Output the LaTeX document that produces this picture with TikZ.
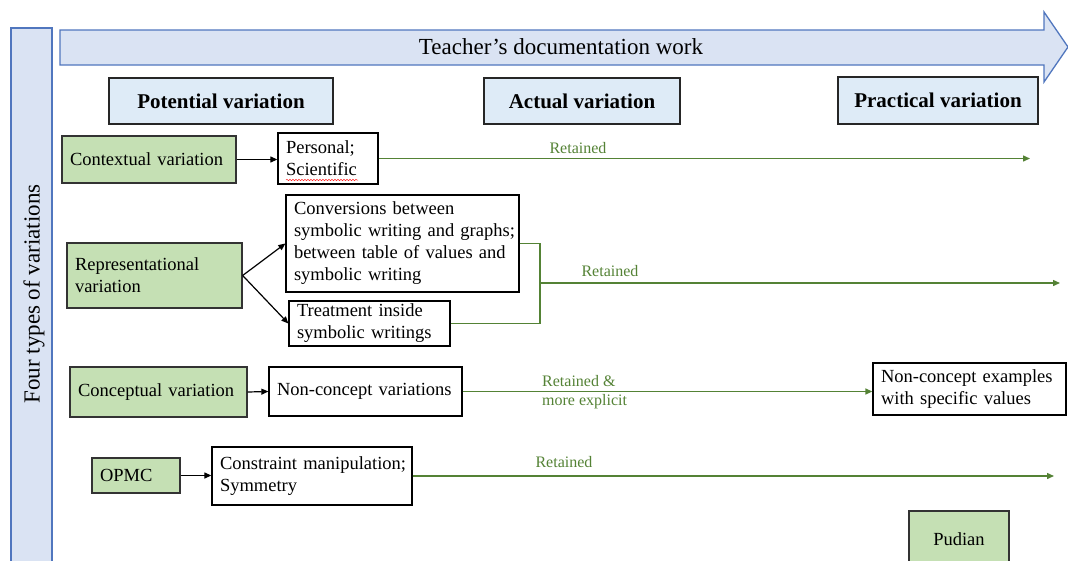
\documentclass[tikz,border=0pt]{standalone}
\usepackage{fontspec}
\setmainfont{Liberation Serif}
\usetikzlibrary{arrows.meta,decorations.pathmorphing}
\definecolor{barblue}{RGB}{218,227,243}
\definecolor{barline}{RGB}{80,118,190}
\definecolor{hdrblue}{RGB}{222,235,247}
\definecolor{boxgreen}{RGB}{197,224,180}
\definecolor{linegreen}{RGB}{84,130,53}
\begin{document}
\begin{tikzpicture}[x=1pt,y=-1pt,
  every node/.style={inner sep=0pt},
  bigfont/.style={font=\fontsize{23}{27}\selectfont},
  bluebar/.style={fill=barblue, draw=barline, line width=1.3pt},
  hdrbox/.style={draw=black!85, line width=1.3pt, fill=hdrblue, font=\bfseries\fontsize{21}{25}\selectfont, inner sep=0pt},
  txtbox/.style={draw=black, line width=1.3pt, fill=white, font=\fontsize{18.5}{22}\selectfont, inner xsep=8pt, inner ysep=0pt, align=left},
  grnbox/.style={txtbox, fill=boxgreen, draw=black!80},
  blk/.style={draw=black, line width=1.2pt, -{Triangle[length=7pt,width=6pt]}},
  grn/.style={draw=linegreen, line width=1.4pt},
  grnarr/.style={grn, -{Triangle[length=7pt,width=6pt]}},
  lbl/.style={text=linegreen, font=\fontsize{16}{19}\selectfont, align=left}
]
\useasboundingbox (0,0) rectangle (1068,560);
\clip (0,0) rectangle (1068,560);

% left bar and top arrow
\draw[bluebar] (11,28) rectangle (52,585);
\node[bigfont, rotate=90] (four) at (34,294) {Four types of variations};
\draw[bluebar] (60,30) -- (1044,30) -- (1044,12) -- (1068,47) -- (1044,82) -- (1044,65) -- (60,65) -- cycle;
\node[bigfont] (title) at (561,47) {Teacher’s documentation work};

% headers
\node[hdrbox, minimum width=224pt, minimum height=46pt] (pot) at (221,101) {Potential variation};
\node[hdrbox, minimum width=196pt, minimum height=46pt] (act) at (582,101) {Actual variation};
\node[hdrbox, minimum width=200pt, minimum height=47pt] (prac) at (938,100.5) {Practical variation};

% row 1
\node[grnbox, minimum width=174pt, minimum height=47pt, text width=158pt] (ctx) at (149,159.5) {\mbox{Contextual variation}};
\node[txtbox, minimum width=100pt, minimum height=51pt, text width=84pt] (pers) at (328,158.5) {Personal;\\Scientific};
\draw[red!85, line width=0.5pt, decorate, decoration={snake, amplitude=0.7pt, segment length=3pt}] (286,180) -- (358,180);

% row 2
\node[grnbox, minimum width=175pt, minimum height=65pt, text width=159pt] (rep) at (154.5,275.5) {Representational\\variation};
\node[txtbox, minimum width=233pt, minimum height=97pt, text width=217pt] (conv) at (402.5,243.5) {\mbox{Conversions between}\\\mbox{symbolic writing and graphs;}\\\mbox{between table of values and}\\\mbox{symbolic writing}};
\node[txtbox, minimum width=161pt, minimum height=45pt, text width=145pt] (treat) at (369.5,323.5) {\mbox{Treatment inside}\\\mbox{symbolic writings}};

% row 3
\node[grnbox, minimum width=177pt, minimum height=50pt, text width=161pt] (conc) at (158.5,392) {\mbox{Conceptual variation}};
\node[txtbox, minimum width=193pt, minimum height=49pt, text width=177pt] (ncv) at (365.5,391.5) {\mbox{Non-concept variations}};
\node[txtbox, minimum width=193pt, minimum height=52pt, text width=177pt] (nce) at (969.5,389) {\mbox{Non-concept examples}\\\mbox{with specific values}};

% row 4
\node[grnbox, minimum width=88pt, minimum height=35pt, text width=72pt] (opmc) at (136,475.5) {OPMC};
\node[txtbox, minimum width=200pt, minimum height=58pt, text width=184pt] (constr) at (312,476) {\mbox{Constraint manipulation;}\\Symmetry};

% Pudian
\draw[fill=boxgreen, draw=black!80, line width=1.3pt] (909,511) rectangle (1009,590);
\node[font=\fontsize{18.5}{22}\selectfont] (pud) at (959,539) {Pudian};

% connectors
\draw[blk] (ctx.east) -- (ctx.east -| pers.west);
\coordinate (e1) at (1030,158.5);
\draw[grnarr] (pers.east) -- (e1);
\node[lbl] (r1) at (578,148.5) {Retained};

\draw[blk] (rep.east) -- (conv.west);
\draw[blk] (rep.east) -- (treat.west);
\coordinate (brk) at (540,283);
\draw[grn] (conv.east) -- (conv.east -| brk) -- (treat.east -| brk) -- (treat.east);
\coordinate (e2) at (1060,283);
\draw[grnarr] (brk) -- (e2);
\node[lbl] (r2) at (610,271.5) {Retained};

\draw[blk] (conc.east) -- (ncv.west);
\draw[grnarr] (ncv.east) -- (ncv.east -| nce.west);
\node[lbl, anchor=west] (r3) at (542,392) {Retained \&\\more explicit};

\draw[blk] (opmc.east) -- (opmc.east -| constr.west);
\coordinate (e4) at (1054,476);
\draw[grnarr] (constr.east) -- (e4);
\node[lbl] (r4) at (564,462.5) {Retained};
\end{tikzpicture}
\end{document}
